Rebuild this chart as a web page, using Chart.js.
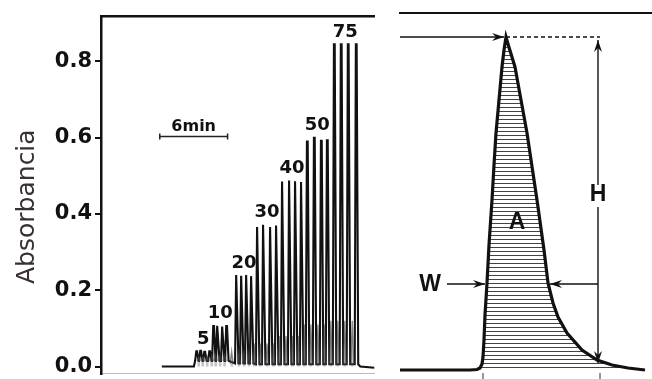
<!DOCTYPE html>
<html>
<head>
<meta charset="utf-8">
<script src="https://cdn.jsdelivr.net/npm/chart.js@4.4.1/dist/chart.umd.min.js"></script>
<style>
html, body { margin: 0; padding: 0; background: #fff; overflow: hidden; }
#left { position: absolute; left: 0; top: 0; width: 380px; height: 379px; }
#right { position: absolute; left: 380px; top: 0; width: 272px; height: 379px; }
</style>
</head>
<body>
<div id="left"><canvas id="chartLeft"></canvas></div>
<div id="right"><canvas id="chartRight"></canvas></div>
<script>
// left panel: recording, 4 injections per standard (time in min)
var groupLabels = ["5", "10", "20", "30", "40", "50", "75"];
var peakTimes = [
    [8.47, 8.82, 9.18, 9.62],
    [9.97, 10.32, 10.76, 11.12],
    [12.00, 12.44, 12.88, 13.32],
    [13.85, 14.38, 15.00, 15.53],
    [16.06, 16.68, 17.21, 17.74],
    [18.26, 18.88, 19.50, 20.03],
    [20.65, 21.26, 21.88, 22.59]
];
var peakHeights = [
    [0.040, 0.041, 0.039, 0.040],
    [0.106, 0.107, 0.105, 0.106],
    [0.240, 0.238, 0.240, 0.237],
    [0.366, 0.372, 0.366, 0.370],
    [0.485, 0.488, 0.486, 0.484],
    [0.590, 0.600, 0.592, 0.593],
    [0.845, 0.845, 0.845, 0.845]
];
var minorHeights = [0.025, 0.03, 0.04, 0.06, 0.08, 0.11, 0.12];
var valleyHeights = [0.015, 0.015, 0.008, 0.006, 0.006, 0.006, 0.006];
var baseStart = 5.38, baseEnd = 24.2;
var yTicks = [0, 0.2, 0.4, 0.6, 0.8];
var scaleBarX = [5.2, 11.2];
var scaleBarY = 0.603;
var scaleBarLabel = "6min";

// right panel: schematic peak (A area, H height, W width)
var shapeX = [0, 70, 77, 80, 82, 83, 84, 85, 87, 89, 92, 94, 96, 99, 102, 104, 106,
              108, 115, 121, 127, 137, 144, 148, 153, 158, 167, 182, 197, 212, 228, 245];
var shapeY = [0, 0, 0.5, 2, 6, 13, 30, 55, 87, 125, 170, 205, 237, 270, 303, 320, 333,
              326, 303, 270, 237, 170, 120, 87, 67, 53, 37, 20, 10, 5, 2, 0];
var letterText = ["A", "H", "W"];
var letterX = [117, 198, 30];
var letterY = [147, 175, 85];

function buildTrace()
{
    var pts = [{x: baseStart, y: 0}, {x: peakTimes[0][0] - 0.25, y: 0}];
    peakTimes.map((times, g) => {
        times.map((t, i) => {
            var h = peakHeights[g][i];
            var v = valleyHeights[g];
            pts.push({x: t - 0.14, y: v});
            pts.push({x: t - 0.04, y: h});
            pts.push({x: t + 0.03, y: h});
            pts.push({x: t + 0.17, y: v});
        });
    });
    var last = peakTimes[peakTimes.length - 1];
    var lastT = last[last.length - 1];
    pts.push({x: lastT + 0.35, y: 0});
    pts.push({x: baseEnd, y: -0.003});
    return pts;
}

function buildMinor()
{
    var pts = [];
    var flat = [];
    peakTimes.map((times, g) => times.map(t => flat.push({t: t, g: g})));
    for(var i = 0; i < flat.length - 1; i++)
    {
        var mid = (flat[i].t + flat[i + 1].t) / 2;
        var g = flat[i + 1].g;
        pts.push({x: mid - 0.13, y: valleyHeights[g]});
        pts.push({x: mid, y: minorHeights[g]});
        pts.push({x: mid + 0.13, y: valleyHeights[g]});
        pts.push({x: mid + 0.13, y: null});
    }
    return pts;
}

var leftLabels = {
    id: "leftLabels",
    afterDatasetsDraw(chart) {
        var ctx = chart.ctx;
        var xs = chart.scales.x, ys = chart.scales.y;
        ctx.save();
        ctx.fillStyle = "#111";
        ctx.textAlign = "center";
        ctx.textBaseline = "middle";
        ctx.font = "bold 18px 'DejaVu Sans'";
        groupLabels.map((lab, g) => {
            var ts = peakTimes[g];
            var cx = (ts[0] + ts[ts.length - 1]) / 2;
            var top = Math.max.apply(null, peakHeights[g]);
            ctx.fillText(lab, xs.getPixelForValue(cx), ys.getPixelForValue(top) - 12);
        });
        ctx.font = "bold 16px 'DejaVu Sans'";
        ctx.fillText(scaleBarLabel, xs.getPixelForValue((scaleBarX[0] + scaleBarX[1]) / 2), ys.getPixelForValue(scaleBarY) - 10);
        ctx.restore();
    }
};

const leftChart = new Chart(document.getElementById("chartLeft"), {
    type: "line",
    data: {
        datasets: [
            {data: buildMinor(), borderColor: "rgba(70,70,70,0.6)", borderWidth: 1.4, pointRadius: 0, spanGaps: false,
             fill: "origin", backgroundColor: "rgba(90,90,90,0.35)"},
            {data: buildTrace(), borderColor: "#111", borderWidth: 2.1, pointRadius: 0},
            {data: [{x: scaleBarX[0], y: scaleBarY}, {x: scaleBarX[1], y: scaleBarY}], borderColor: "#222", borderWidth: 1.5,
             pointStyle: "line", rotation: 90, pointRadius: 3, pointBorderWidth: 1.5, pointBorderColor: "#222"}
        ]
    },
    options: {
        responsive: true, maintainAspectRatio: false, animation: false,
        layout: {padding: {left: 0, right: 5, top: 16, bottom: 2}},
        plugins: {legend: {display: false}, tooltip: {enabled: false}},
        scales: {
            x: {type: "linear", min: 0, max: 24.2, ticks: {display: false}, grid: {display: false},
                border: {color: "#bbb", width: 1}, afterFit: s => { s.height = 0; }},
            xTop: {type: "linear", position: "top", min: 0, max: 24.2, ticks: {display: false}, grid: {display: false},
                border: {color: "#111", width: 2.5}, afterFit: s => { s.height = 0; }},
            y: {min: -0.0182, max: 0.919,
                afterBuildTicks: s => { s.ticks = yTicks.map(v => ({value: v})); },
                ticks: {font: {family: "DejaVu Sans", weight: "bold", size: 21}, color: "#111", padding: 3,
                        callback: v => v.toFixed(1)},
                grid: {drawOnChartArea: false, tickLength: 6, color: "#111", lineWidth: 2},
                border: {color: "#111", width: 2.5},
                title: {display: true, text: "Absorbancia   ", color: "#3a3030",
                        font: {family: "DejaVu Sans", size: 25, lineHeight: 1}, padding: {top: 15, bottom: 0}},
                afterFit: s => { s.width = 101; s.paddingTop = 0; s.paddingBottom = 0; }}
        }
    },
    plugins: [leftLabels]
});

// hatch pattern for the peak area
var patCanvas = document.createElement("canvas");
patCanvas.width = 4; patCanvas.height = 4;
var pctx = patCanvas.getContext("2d");
pctx.fillStyle = "rgba(20,20,20,0.8)";
pctx.fillRect(0, 3, 4, 1);
var hatch = pctx.createPattern(patCanvas, "repeat");

var arrowHeads = {
    id: "arrowHeads",
    afterDatasetsDraw(chart) {
        var ctx = chart.ctx;
        chart.data.datasets.map((ds, i) => {
            if(!ds.arrowEnd) return;
            var pts = chart.getDatasetMeta(i).data;
            var a = pts[pts.length - 2], b = pts[pts.length - 1];
            var ang = Math.atan2(b.y - a.y, b.x - a.x);
            ctx.save();
            ctx.translate(b.x, b.y);
            ctx.rotate(ang);
            ctx.beginPath();
            ctx.moveTo(0, 0);
            ctx.lineTo(-12, -4);
            ctx.lineTo(-8, 0);
            ctx.lineTo(-12, 4);
            ctx.closePath();
            ctx.fillStyle = "#111";
            ctx.fill();
            ctx.restore();
        });
        var xs = chart.scales.x, ys = chart.scales.y;
        ctx.save();
        ctx.fillStyle = "#111";
        ctx.textAlign = "center";
        ctx.textBaseline = "middle";
        ctx.font = "bold 23px 'Liberation Sans'";
        letterText.map((t, i) => ctx.fillText(t, xs.getPixelForValue(letterX[i]), ys.getPixelForValue(letterY[i])));
        ctx.restore();
    }
};

function seg(x0, y0, x1, y1, extra)
{
    var ds = {data: [{x: x0, y: y0}, {x: x1, y: y1}], borderColor: "#111", borderWidth: 1.4, pointRadius: 0};
    return Object.assign(ds, extra || {});
}

const rightChart = new Chart(document.getElementById("chartRight"), {
    type: "line",
    data: {
        datasets: [
            {data: shapeX.map((x, i) => ({x: x, y: shapeY[i]})), borderColor: "#111", borderWidth: 3.2,
             pointRadius: 0, fill: "origin", backgroundColor: hatch},
            seg(106, 333, 200, 333, {borderDash: [4, 3]}),
            seg(0, 333, 104, 333, {arrowEnd: true}),
            seg(198, 185, 198, 330, {arrowEnd: true}),
            seg(198, 163, 198, 7, {arrowEnd: true}),
            seg(198, 86, 150, 86, {arrowEnd: true}),
            seg(47, 86, 85, 86, {arrowEnd: true}),
            seg(83, -3, 83, -9, {borderColor: "#888", borderWidth: 1}),
            seg(200, -3, 200, -9, {borderColor: "#888", borderWidth: 1})
        ]
    },
    options: {
        responsive: true, maintainAspectRatio: false, animation: false,
        layout: {padding: {left: 20, right: 0, top: 13, bottom: 0}},
        plugins: {legend: {display: false}, tooltip: {enabled: false}},
        scales: {
            x: {type: "linear", min: 0, max: 252, display: false},
            xTop: {type: "linear", position: "top", min: 0, max: 252, ticks: {display: false}, grid: {display: false},
                border: {color: "#111", width: 2}, afterFit: s => { s.height = 0; }},
            y: {min: -9, max: 357, display: false}
        }
    },
    plugins: [arrowHeads]
});
</script>
</body>
</html>
